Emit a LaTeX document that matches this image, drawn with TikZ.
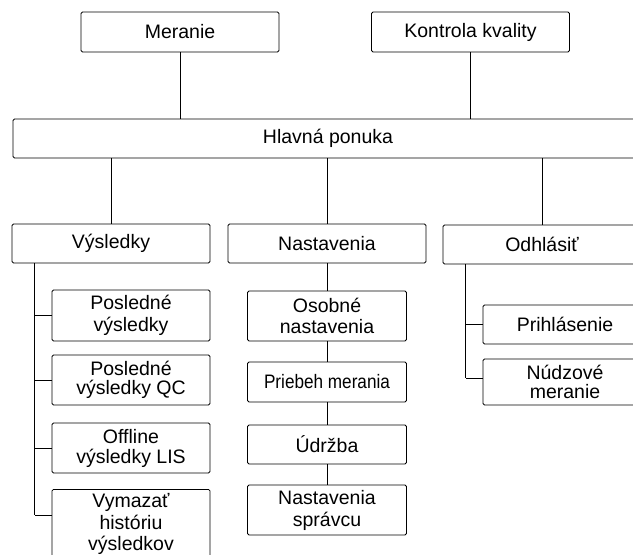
\documentclass[tikz,border=0pt]{standalone}
\usepackage{fontspec}
\usepackage{graphicx}
\setmainfont{Liberation Sans}

\begin{document}
\begin{tikzpicture}[x=1pt, y=-1pt,
  menu/.style={draw, line width=0.8pt, rounded corners=1.5pt, fill=white, align=center,
               inner sep=0pt, font=\fontsize{19.5}{22}\selectfont},
  topbox/.style={menu, minimum width=198pt, minimum height=40pt},
  subbox/.style={menu, minimum width=158pt},
  wire/.style={line width=0.8pt}
]
\clip (0,0) rectangle (633,555);

% Top row
\node[topbox] (meranie) at (180,32) {Meranie};
\node[topbox] (kontrola) at (470.5,32) {Kontrola kvality};

% Main menu bar (runs past the right edge)
\node[menu, minimum width=630pt, minimum height=39pt] (hlavna) at (328,138.5) {Hlavná ponuka};

% Second row
\node[topbox, minimum height=39pt] (vysledky) at (111,243.5) {Výsledky};
\node[topbox, minimum height=39pt] (nastavenia) at (327,243.5) {Nastavenia};
\node[topbox, minimum height=39pt] (odhlasit) at (542,244.5) {Odhlásiť};

% Vysledky submenu
\node[subbox, minimum height=51pt] (posledne) at (131,315.5) {Posledné\\výsledky};
\node[subbox, minimum height=50pt] (poslqc) at (131,380) {Posledné\\[-3pt]výsledky QC};
\node[subbox, minimum height=50pt] (offline) at (131,448) {Offline\\[-2pt]výsledky LIS};
\node[subbox, minimum height=70pt, anchor=north] (vymazat) at (131,489) {Vymazať\\históriu\\[-1pt]výsledkov};

% Nastavenia submenu
\node[subbox, minimum width=159pt, minimum height=50pt] (osobne) at (327,316) {Osobné\\[-1pt]nastavenia};
\node[subbox, minimum width=159pt, minimum height=40pt] (priebeh) at (327,382) {\scalebox{0.88}[1]{Priebeh merania}};
\node[subbox, minimum width=159pt, minimum height=39pt] (udrzba) at (327,444.5) {Údržba};
\node[subbox, minimum width=159pt, minimum height=50pt] (spravca) at (327,510) {Nastavenia\\správcu};

% Odhlasit submenu
\node[subbox, minimum width=164pt, minimum height=39pt] (prihlasenie) at (565,324.5) {Prihlásenie};
\node[subbox, minimum width=164pt, minimum height=46pt] (nudzove) at (565,382) {Núdzové\\[-3pt]meranie};

% Links to the main menu
\draw[wire] (meranie.south) -- (meranie.south |- hlavna.north);
\draw[wire] (kontrola.south) -- (kontrola.south |- hlavna.north);
\foreach \n in {vysledky,nastavenia,odhlasit}
  \draw[wire] (\n.north |- hlavna.south) -- (\n.north);

% Vysledky tree
\coordinate (vtrunk) at ([xshift=23pt]vysledky.south west);
\foreach \n in {posledne,poslqc,offline,vymazat}{
  \coordinate (br-\n) at ([yshift=-26pt]\n.north west);
  \draw[wire] (br-\n) -- (vtrunk |- br-\n);
}
\draw[wire] (vtrunk) -- (vtrunk |- br-vymazat);

% Nastavenia chain
\draw[wire] (nastavenia) -- (osobne) -- (priebeh) -- (udrzba) -- (spravca);

% Odhlasit tree
\coordinate (otrunk) at ([xshift=23pt]odhlasit.south west);
\foreach \n in {prihlasenie,nudzove}{
  \coordinate (br-\n) at ([yshift=-19.5pt]\n.north west);
  \draw[wire] (br-\n) -- (otrunk |- br-\n);
}
\draw[wire] (otrunk) -- (otrunk |- br-nudzove);
\end{tikzpicture}
\end{document}
